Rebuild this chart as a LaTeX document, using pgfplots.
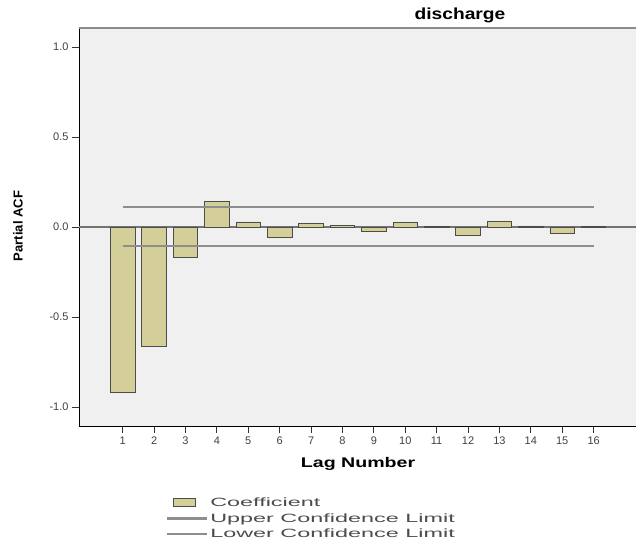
\documentclass[border=0pt]{standalone}
\usepackage{pgfplots}
\pgfplotsset{compat=1.18}
\usepackage{fontspec}
\setmainfont{Liberation Sans}
\definecolor{bgc}{HTML}{F0F0F0}
\definecolor{barc}{HTML}{D4CF98}
\definecolor{cl}{HTML}{8E8E8E}
\begin{document}
\begin{tikzpicture}
\useasboundingbox (0pt,0pt) rectangle (636pt,542pt);
\begin{axis}[
  at={(79pt,116pt)}, anchor=south west,
  scale only axis, width=557pt, height=398pt,
  xmin=-0.392, xmax=17.35, ymin=-1.105, ymax=1.105,
  axis x line*=bottom, axis y line*=left,
  axis line style={black, line width=0.9pt, -},
  axis background/.style={fill=bgc},
  xtick={1,...,16}, ytick={-1,-0.5,0,0.5,1},
  yticklabel style={/pgf/number format/.cd, fixed, fixed zerofill, precision=1},
  /pgf/number format/assume math mode=true,
  tick align=outside, tick style={black!80, line width=0.8pt},
  major tick length=7pt,
  ticklabel style={font=\fontsize{11}{12}\selectfont, text=black!75},
  xlabel={\scalebox{1.4}[1]{\textbf{Lag Number}}},
  xlabel style={at={(axis description cs:0.501,-0.095)}, anchor=center, font=\fontsize{14}{15}\selectfont},
  ylabel={\textbf{Partial ACF}},
  ylabel style={at={(axis description cs:-0.1095,0.5025)}, anchor=center, font=\fontsize{13}{14}\selectfont},
  title={\scalebox{1.2}[1]{\textbf{discharge}}},
  title style={at={(axis description cs:0.684,1.016)}, anchor=center, font=\fontsize{16}{17}\selectfont},
  legend style={at={(axis description cs:0.156,-0.176)}, anchor=north west, draw=none, fill=none,
    font=\fontsize{12}{13}\selectfont, text=black!70, row sep=1pt, inner sep=0pt},
  legend cell align=left,
  clip=false,
]
\addplot[forget plot, color=black!55, line width=1.6pt] coordinates {(-0.392,0) (17.35,0)};
\addplot[ybar, bar width=24.5pt, fill=barc, draw=black!70, line width=0.8pt,
  legend image code/.code={\draw[fill=barc, draw=black!70, line width=0.8pt] (0pt,-3.5pt) rectangle (22pt,5pt);}]
  coordinates {(1,-0.919) (2,-0.662) (3,-0.170) (4,0.144) (5,0.028) (6,-0.059) (7,0.018) (8,0.008)
  (9,-0.025) (10,0.025) (11,0.003) (12,-0.045) (13,0.030) (14,0.006) (15,-0.035) (16,0.003)};
\addlegendentry{\scalebox{1.95}[1]{Coefficient}}
\addplot[color=cl, line width=2.2pt,
  legend image code/.code={\draw[color=cl, line width=2.2pt] (-6pt,0pt) -- (34pt,0pt);}]
  coordinates {(1,0.110) (16,0.110)};
\addlegendentry{\scalebox{1.95}[1]{Upper Confidence Limit}}
\addplot[color=cl, line width=2.2pt,
  legend image code/.code={\draw[color=cl, line width=2.2pt] (-6pt,0pt) -- (34pt,0pt);}]
  coordinates {(1,-0.107) (16,-0.107)};
\addlegendentry{\scalebox{1.95}[1]{Lower Confidence Limit}}
\draw[color=black!45, line width=2pt] (rel axis cs:0,1) -- (rel axis cs:1,1);
\end{axis}
\end{tikzpicture}
\end{document}
